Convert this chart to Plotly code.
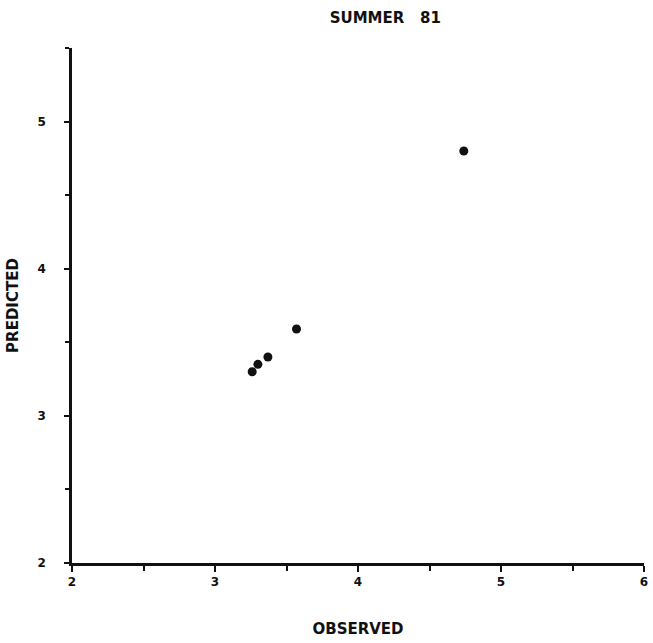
import plotly.graph_objects as go

observed = [3.26, 3.30, 3.37, 3.57, 4.74]
predicted = [3.30, 3.35, 3.40, 3.59, 4.80]

x_tick_vals = [2, 3, 4, 5, 6]
x_tick_text = ["2", "3", "4", "5", "6"]
y_tick_vals = [2, 3, 4, 5]
y_tick_text = ["2", "3", "4", "5"]

title_text = "SUMMER   81"
x_title = "OBSERVED"
y_title = "PREDICTED"

font_bold = "DejaVu Sans"

fig = go.Figure()
fig.add_trace(go.Scatter(
    x=observed, y=predicted, mode="markers",
    marker=dict(color="#111111", size=9, line=dict(width=0)),
    showlegend=False,
))

fig.update_layout(
    width=653, height=643,
    margin=dict(l=72, r=5, t=48, b=80),
    paper_bgcolor="white", plot_bgcolor="white",
    font=dict(family=font_bold, color="#111111"),
    title=dict(text="<b>" + title_text + "</b>", x=0.59, xanchor="center",
               y=0.972, yanchor="middle",
               font=dict(size=15, family=font_bold, color="#111111")),
)

fig.update_xaxes(
    range=[2, 6], showgrid=False, zeroline=False,
    showline=True, linecolor="#111111", linewidth=2.5,
    tickvals=x_tick_vals, ticktext=["<b>%s</b>" % t for t in x_tick_text],
    ticks="outside", ticklen=6, tickwidth=2, tickcolor="#111111",
    minor=dict(dtick=0.5, tick0=2, ticks="outside", ticklen=5, tickwidth=2, tickcolor="#111111"),
    tickfont=dict(size=12, family=font_bold, color="#111111"),
    ticklabeloverflow="allow",
    title=dict(text="<b>" + x_title + "</b>", standoff=36,
               font=dict(size=15, family=font_bold, color="#111111")),
)
fig.update_yaxes(
    range=[2, 5.5], showgrid=False, zeroline=False,
    showline=True, linecolor="#111111", linewidth=2.5,
    tickvals=y_tick_vals, ticktext=["<b>%s</b>" % t for t in y_tick_text],
    ticks="outside", ticklen=5, tickwidth=2, tickcolor="#111111",
    minor=dict(dtick=0.5, tick0=2, ticks="outside", ticklen=4, tickwidth=2, tickcolor="#111111"),
    tickfont=dict(size=12, family=font_bold, color="#111111"),
    ticklabelstandoff=16,
    title=dict(text="<b>" + y_title + "</b>", standoff=16,
               font=dict(size=15, family=font_bold, color="#111111")),
)

fig.write_html("out.html", config={"displayModeBar": False},
               post_script="document.body.style.margin='0';")
